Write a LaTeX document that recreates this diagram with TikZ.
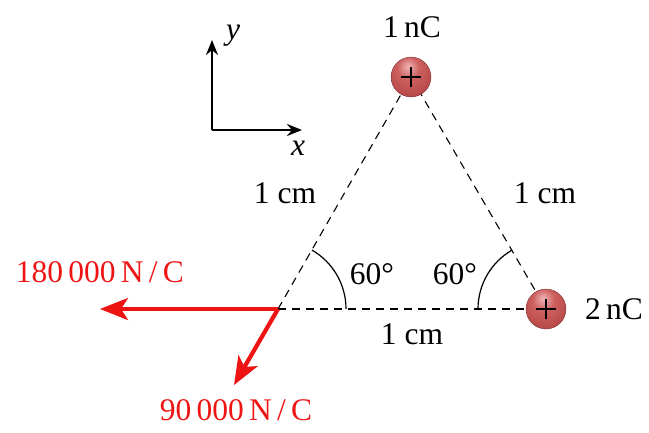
\documentclass[tikz,border=0pt]{standalone}
\usepackage{fontspec}
\setmainfont{Liberation Serif}
\usetikzlibrary{arrows.meta,calc}
\definecolor{vred}{RGB}{238,20,20}
\definecolor{bhi}{RGB}{240,180,180}
\definecolor{bmid}{RGB}{205,95,95}
\definecolor{bout}{RGB}{175,65,65}
\definecolor{bedge}{RGB}{135,45,45}
\pgfdeclareradialshading{chargeball}{\pgfpoint{-4bp}{14bp}}{color(0bp)=(bhi); color(14bp)=(bmid); color(38bp)=(bout); color(52bp)=(bedge); color(70bp)=(bedge)}
\begin{document}
\begin{tikzpicture}[x=1pt,y=-1pt,
  lbl/.style={font=\fontsize{31.5}{36}\selectfont, inner sep=0pt},
  rlbl/.style={lbl, text=vred},
  dline/.style={dash pattern=on 8pt off 6pt, line width=1.1pt},
  charge/.style={circle, minimum size=40pt, inner sep=0pt, shading=chargeball, draw=bedge!80!black, line width=0.3pt},
  efield/.style={vred, line width=4.2pt, -{Stealth[length=28pt,width=22pt,inset=7pt]}},
  axis/.style={line width=2.5pt, -{Stealth[length=15pt,width=12pt]}}]
\useasboundingbox (0,0) rectangle (649,432);
% axes
\coordinate (O) at (212,130);
\coordinate (Ay) at (212,40);
\coordinate (Ax) at (302,130);
\draw[axis] (O) -- (Ay);
\draw[axis] (O) -- (Ax);
\node[lbl, font=\fontsize{31.5}{36}\selectfont\itshape] (ly) at (233,36) {y};
\node[lbl, font=\fontsize{31.5}{36}\selectfont\itshape] (lx) at (298,148) {x};
% vertices
\coordinate (P) at (278,309);
\coordinate (V1) at (411,77);
\coordinate (V2) at (546,309);
% dashed triangle
\draw[dline] (P) -- (V1);
\draw[dline] (V1) -- (V2);
\draw[dline] (P) -- (V2);
% charges
\node[charge] (Q1) at (V1) {};
\node[charge] (Q2) at (V2) {};
\draw[line width=1.1pt] ($(Q1)+(-10,0)$) -- ($(Q1)+(10,0)$) ($(Q1)+(0,-10)$) -- ($(Q1)+(0,10)$);
\draw[line width=1.1pt] ($(Q2)+(-10,0)$) -- ($(Q2)+(10,0)$) ($(Q2)+(0,-10)$) -- ($(Q2)+(0,10)$);
% angle arcs
\draw[line width=1.2pt] ($(P)+(68,0)$) arc[start angle=0, end angle=-60, radius=68];
\draw[line width=1.2pt] ($(V2)+(-68,0)$) arc[start angle=180, end angle=240, radius=68];
% labels
\node[lbl] (c1) at (412,27) {1\,nC};
\node[lbl] (c2) at (614,309) {2\,nC};
\node[lbl] (s1) at (285,193) {1 cm};
\node[lbl] (s2) at (545,193) {1 cm};
\node[lbl] (s3) at (412,334) {1 cm};
\node[lbl] (a1) at (372,274) {60°};
\node[lbl] (a2) at (455,274) {60°};
% field vectors
\coordinate (E1) at (100,309);
\coordinate (E2) at (234,385);
\draw[efield] (P) -- (E1);
\draw[efield] (P) -- (E2);
\node[rlbl] (l1) at (100,272) {180\,000\,N\,/\,C};
\node[rlbl] (l2) at (236,410) {90\,000\,N\,/\,C};
\end{tikzpicture}
\end{document}
